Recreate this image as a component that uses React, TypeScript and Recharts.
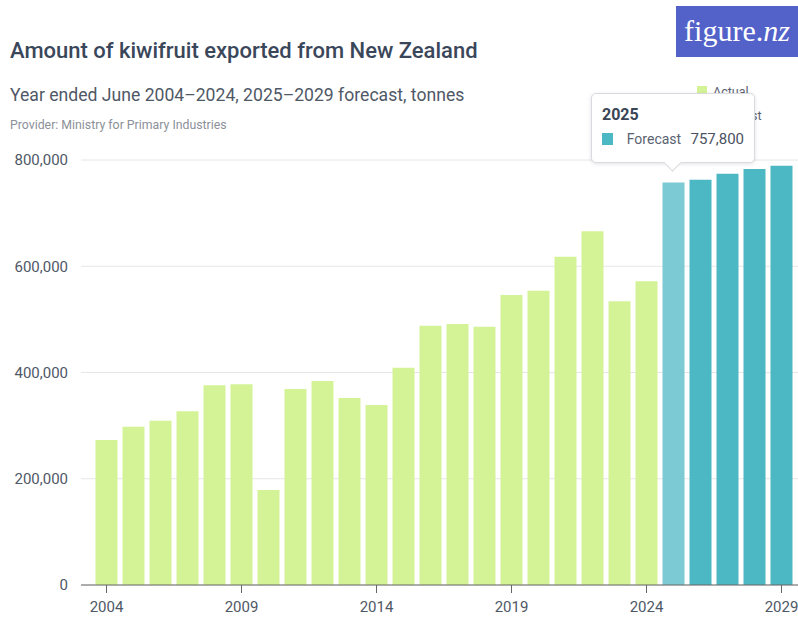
import React from 'react';
import { BarChart, Bar, XAxis, YAxis, CartesianGrid, Tooltip, Cell } from 'recharts';

const years = [
  '2004', '2005', '2006', '2007', '2008', '2009', '2010', '2011', '2012', '2013',
  '2014', '2015', '2016', '2017', '2018', '2019', '2020', '2021', '2022', '2023',
  '2024', '2025', '2026', '2027', '2028', '2029',
];

// tonnes, year ended June
const actual = [
  272800, 297800, 309000, 327000, 376000, 378000, 179000, 369000, 384000, 352000,
  339000, 409000, 488000, 491500, 486000, 546000, 554000, 618000, 666000, 534000,
  572000,
];
const forecast = [757800, 763000, 774000, 783000, 789000];

const yTicks = [0, 200000, 400000, 600000, 800000];

const ACTUAL = '#d3f396';
const FORECAST = '#4cb8c4';
const FORECAST_HOVER = '#7ccbd4';
const HOVER_INDEX = 21;

const data = years.map((year, i) => ({
  year,
  actual: i < actual.length ? actual[i] : null,
  forecast: i >= actual.length ? forecast[i - actual.length] : null,
}));

const legendItems = [
  { name: 'Actual', color: ACTUAL },
  { name: 'Forecast', color: FORECAST },
];

const font = 'Roboto, "Liberation Sans", sans-serif';

const fmt = (v: number) => v.toLocaleString('en-US');

const TipBox = ({ active, payload, label }: any) => {
  if (!active || !payload) return null;
  const items = payload.filter((p: any) => p.value != null);
  return (
    <div
      style={{
        position: 'relative',
        width: 164,
        height: 70,
        boxSizing: 'border-box',
        background: '#fff',
        border: '1px solid #d9dbe0',
        borderRadius: 5,
        boxShadow: '0 1px 4px rgba(0,0,0,0.12)',
        fontFamily: font,
        padding: '11px 10px 0 10px',
      }}
    >
      <div style={{ fontSize: 16, fontWeight: 700, color: '#3a4556', lineHeight: '20px' }}>{label}</div>
      {items.map((p: any) => (
        <div key={p.dataKey} style={{ display: 'flex', alignItems: 'center', marginTop: 5, height: 18 }}>
          <span style={{ width: 12, height: 12, background: FORECAST, display: 'inline-block' }} />
          <span style={{ fontSize: 14, color: '#5a6270', marginLeft: 14, width: 71 }}>{p.name}</span>
          <span style={{ fontSize: 15, color: '#4a5262' }}>{fmt(p.value)}</span>
        </div>
      ))}
      <div
        style={{
          position: 'absolute',
          left: 74,
          bottom: -7,
          width: 12,
          height: 12,
          background: '#fff',
          borderRight: '1px solid #d9dbe0',
          borderBottom: '1px solid #d9dbe0',
          transform: 'rotate(45deg)',
        }}
      />
    </div>
  );
};

export default function App() {
  return (
    <div style={{ position: 'relative', width: 798, height: 622, background: '#fff', overflow: 'hidden' }}>
      <style>{'body{margin:0}'}</style>
      <div style={{ position: 'absolute', left: 10, top: 38, fontFamily: font, fontSize: 22, fontWeight: 500, color: '#3a475a', whiteSpace: 'nowrap' }}>
        Amount of kiwifruit exported from New Zealand
      </div>
      <div style={{ position: 'absolute', left: 10, top: 85, fontFamily: font, fontSize: 17.6, color: '#4f5866', whiteSpace: 'nowrap' }}>
        Year ended June 2004–2024, 2025–2029 forecast, tonnes
      </div>
      <div style={{ position: 'absolute', left: 10, top: 118, fontFamily: font, fontSize: 12.3, color: '#8b9099', whiteSpace: 'nowrap' }}>
        Provider: Ministry for Primary Industries
      </div>
      <div
        style={{
          position: 'absolute',
          left: 676,
          top: 6,
          width: 122,
          height: 51,
          background: '#5262c9',
          color: '#fff',
          fontFamily: '"Liberation Serif", serif',
          fontSize: 30,
          lineHeight: '49px',
          textAlign: 'center',
        }}
      >
        figure.<i>nz</i>
      </div>
      <div style={{ position: 'absolute', left: 697, top: 79, fontFamily: font, fontSize: 12.5, color: '#5a6270' }}>
        {legendItems.map((it) => (
          <div key={it.name} style={{ display: 'flex', alignItems: 'center', height: 24 }}>
            <span style={{ width: 10, height: 10, background: it.color, display: 'inline-block', marginRight: 6 }} />
            {it.name}
          </div>
        ))}
      </div>
      <div style={{ position: 'absolute', left: 0, top: 0 }}>
        <BarChart width={798} height={622} data={data} margin={{ top: 160, right: 0, bottom: 0, left: 0 }} barCategoryGap={2.5}>
          <CartesianGrid vertical={false} stroke="#e6e6e6" />
          <XAxis
            dataKey="year"
            interval={4}
            height={37}
            padding={{ left: 12, right: 3 }}
            stroke="#666"
            tickSize={8}
            tickMargin={8}
            tick={{ fontFamily: font, fontSize: 15, fill: '#4f5866' }}
          />
          <YAxis
            width={81}
            domain={[0, 800000]}
            ticks={yTicks}
            axisLine={false}
            tickLine={false}
            tickSize={0}
            tickMargin={13}
            tickFormatter={fmt}
            tick={{ fontFamily: font, fontSize: 15, fill: '#4f5866' }}
          />
          <Tooltip
            active
            defaultIndex={HOVER_INDEX}
            cursor={false}
            position={{ x: 591, y: 93 }}
            content={<TipBox />}
            wrapperStyle={{ zIndex: 10 }}
            isAnimationActive={false}
          />
          <Bar dataKey="actual" name="Actual" stackId="a" fill={ACTUAL} isAnimationActive={false} />
          <Bar dataKey="forecast" name="Forecast" stackId="a" fill={FORECAST} isAnimationActive={false}>
            {data.map((d, i) => (
              <Cell key={d.year} fill={i === HOVER_INDEX ? FORECAST_HOVER : FORECAST} />
            ))}
          </Bar>
        </BarChart>
      </div>
    </div>
  );
}
